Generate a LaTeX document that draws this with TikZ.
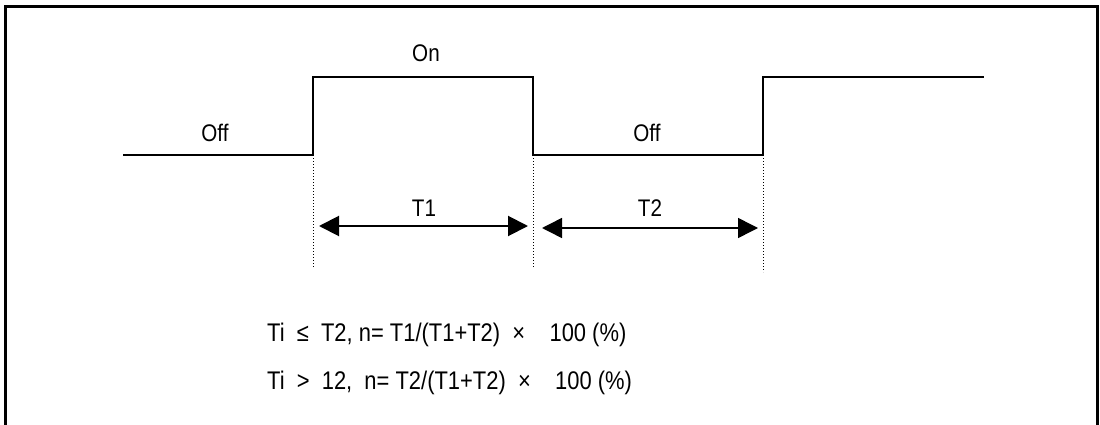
\documentclass[tikz,border=0pt]{standalone}
\usepackage{fontspec}
\setmainfont[FakeStretch=0.86]{Liberation Sans}
\usepackage{tikz}
\usetikzlibrary{arrows.meta,positioning}

\begin{document}
\begin{tikzpicture}[
  x=1pt, y=-1pt,
  >={Triangle[length=20pt,width=20pt]},
  font=\fontsize{24}{28}\selectfont
]
\useasboundingbox (0,0) rectangle (1100,425);

% ==================== Khung ngoai ====================
\coordinate (fbl) at (5,430);
\coordinate (ftl) at (5,7);
\coordinate (ftr) at (1097,7);
\coordinate (fbr) at (1097,430);
\draw[line width=3pt] (fbl) -- (ftl) -- (ftr) -- (fbr);

% ==================== Xung On/Off ====================
\coordinate (s0) at (123,155);
\coordinate (r1lo) at (313,155);
\coordinate (r1hi) at (313,77);
\coordinate (f1hi) at (533,77);
\coordinate (f1lo) at (533,155);
\coordinate (r2lo) at (763,155);
\coordinate (r2hi) at (763,77);
\coordinate (s9) at (984,77);
\draw[line width=2pt] (s0) -- (r1lo) -- (r1hi) -- (f1hi) -- (f1lo) -- (r2lo) -- (r2hi) -- (s9);

\node (offa) at (215,133) {Off};
\node (ona) at (426,53) {On};
\node (offb) at (647,133) {Off};

% Duong giong cham
\coordinate (g1) at (313,267);
\coordinate (g2) at (533,268);
\coordinate (g3) at (763,272);
\draw[dotted, line width=1pt] (r1lo) -- (g1);
\draw[dotted, line width=1pt] (f1lo) -- (g2);
\draw[dotted, line width=1pt] (r2lo) -- (g3);

% Mui ten khoang thoi gian
\coordinate (t1l) at (319,226);
\coordinate (t1r) at (528,226);
\coordinate (t2l) at (542,228);
\coordinate (t2r) at (758,228);
\draw[<->, line width=2pt] (t1l) -- (t1r);
\draw[<->, line width=1.5pt] (t2l) -- (t2r);
\node (lt1) at (424,208) {T1};
\node (lt2) at (650,208) {T2};

% ==================== Cong thuc ====================
\node (eqa) [anchor=west, inner sep=0pt, font=\fontsize{25.5}{30}\selectfont] at (267,335)
  {Ti\ \ ≤\ \ T2, n= T1/(T1+T2)\ \ ×\ \ \ \ 100 (\%)};
\node (eqb) [anchor=west, inner sep=0pt, font=\fontsize{25.5}{30}\selectfont] at (267,383)
  {Ti\ \ >\ \ 12,\ \ n= T2/(T1+T2)\ \ ×\ \ \ \ 100 (\%)};
\end{tikzpicture}
\end{document}
